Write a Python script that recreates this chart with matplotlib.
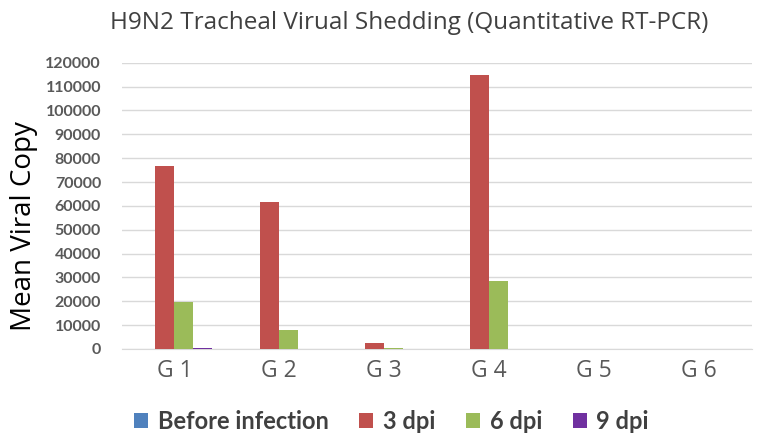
import matplotlib
matplotlib.use("Agg")
import matplotlib.pyplot as plt
import numpy as np

groups = ["G 1", "G 2", "G 3", "G 4", "G 5", "G 6"]
series_names = ["Before infection", "3 dpi", "6 dpi", "9 dpi"]
before_infection = [0, 0, 0, 0, 0, 0]
dpi3 = [76800, 61800, 2500, 115000, 0, 0]
dpi6 = [19700, 8000, 300, 28700, 0, 0]
dpi9 = [400, 0, 0, 0, 0, 0]
colors = ["#4F81BD", "#C0504D", "#9BBB59", "#7030A0"]

fig = plt.figure(figsize=(7.57, 4.37), dpi=100)
ax = fig.add_axes([0.161, 0.2014, 0.832, 0.655])

x = np.arange(len(groups))
w = 0.18
data = [before_infection, dpi3, dpi6, dpi9]
for i, (vals, c, name) in enumerate(zip(data, colors, series_names)):
    ax.bar(x + (i - 1.5) * w, vals, width=w, color=c, label=name, zorder=3)

ax.set_xlim(-0.5, len(groups) - 0.5)
ax.set_ylim(0, 120000)
ax.set_yticks(np.arange(0, 120001, 10000))
ax.set_yticklabels([str(v) for v in range(0, 120001, 10000)],
                   fontsize=11.5, fontweight="bold", color="#595959", family="Lato")
ax.set_xticks(x)
ax.set_xticklabels(groups, fontsize=16.5, color="#595959", family="Open Sans")
ax.tick_params(axis="both", length=0)
ax.tick_params(axis="y", pad=15)
ax.tick_params(axis="x", pad=7)
ax.grid(axis="y", color="#d9d9d9", linewidth=1, zorder=0)
for s in ["top", "right", "left"]:
    ax.spines[s].set_visible(False)
ax.spines["bottom"].set_color("#d9d9d9")

ax.set_ylabel("Mean Viral Copy", fontsize=20, family="Open Sans", color="black",
              va="center", ha="center")
ax.yaxis.set_label_coords(-0.155, 0.43)
fig.text(0.541, 0.948, "H9N2 Tracheal Virual Shedding (Quantitative RT-PCR)",
         ha="center", va="center", fontsize=17.5, family="Open Sans", color="#404040")

leg = fig.legend(loc="lower center", bbox_to_anchor=(0.517, -0.04), ncol=4, frameon=False,
                 prop={"family": "Lato", "weight": "bold", "size": 17},
                 handlelength=0.6, handleheight=0.6, columnspacing=1.3, handletextpad=0.4)
for t in leg.get_texts():
    t.set_color("#404040")

fig.savefig("out.png", dpi=100)
